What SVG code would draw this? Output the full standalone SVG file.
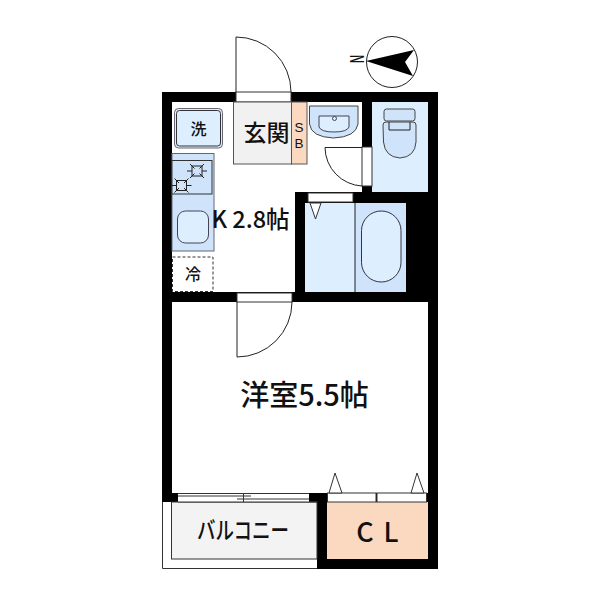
<svg xmlns="http://www.w3.org/2000/svg" width="600" height="600" viewBox="0 0 600 600">
<style>
text{font-family:"Noto Sans CJK JP","Noto Sans",sans-serif;fill:#111;text-anchor:middle;font-weight:500}
.w{fill:#000}
.l{fill:none;stroke:#222;stroke-width:1}
.o{fill:#fff;stroke:#333;stroke-width:1}
.b{fill:#ddeeff}
.m{fill:#cfe3fa;stroke:#444;stroke-width:1}
</style>
<defs>
<g id="burner" fill="none" stroke="#222" stroke-width="1">
<path d="M-10 0H-5M5 0H10M-7 -7L-2.500 -2.500M7 -7L2.500 -2.500M-7 7L-2.500 2.500M7 7L2.500 2.500"/>
<rect x="-5" y="-5" width="10" height="10"/>
</g>
</defs>
<rect width="600" height="600" fill="#fff"/>
<g id="fills">
<rect x="372" y="102" width="56" height="90" class="b"/>
<rect x="305" y="203" width="50" height="89" class="b"/>
<rect x="355" y="203" width="51" height="89" fill="#cfe3fa"/>
<line x1="355" y1="203" x2="355" y2="292" stroke="#222"/>
</g>
<g id="walls">
<rect class="w" x="162" y="92" width="10" height="410"/>
<rect class="w" x="162" y="92" width="276" height="10"/>
<rect class="w" x="428" y="92" width="10" height="477"/>
<rect class="w" x="362" y="102" width="10" height="90"/>
<rect class="w" x="295" y="192" width="143" height="11"/>
<rect class="w" x="295" y="192" width="10" height="110"/>
<rect class="w" x="406" y="202" width="32" height="100"/>
<rect class="w" x="162" y="292" width="276" height="10"/>
<rect class="w" x="162" y="493" width="16" height="9"/>
<rect class="w" x="309" y="493" width="129" height="9"/>
<rect class="w" x="317" y="493" width="10" height="76"/>
<rect class="w" x="317" y="559" width="121" height="10"/>
</g>
<g id="entrance-door">
<rect class="o" x="236" y="92" width="55" height="10"/>
<path class="l" d="M236 92V37A55 55 0 0 1 291 92"/>
</g>
<g id="genkan">
<rect x="233.500" y="102" width="58" height="62" fill="#f1f1f1" stroke="#555"/>
<text x="266.500" y="141" font-size="23">玄関</text>
</g>
<g id="sb">
<rect x="291.500" y="102" width="15.500" height="62" fill="#fbd9c0" stroke="#555"/>
<text x="299" y="132" font-size="13.500" style="font-family:'Liberation Sans',sans-serif;font-weight:400">S</text>
<text x="299" y="148" font-size="13.500" style="font-family:'Liberation Sans',sans-serif;font-weight:400">B</text>
</g>
<g id="washer">
<rect x="174.500" y="108.500" width="48" height="39.500" rx="4" fill="#ddeeff" stroke="#667"/>
<rect x="176.500" y="110.500" width="44" height="35.500" rx="3" fill="#ddeeff" stroke="#333"/>
<text x="198.500" y="134.500" font-size="16">洗</text>
</g>
<g id="kitchen">
<rect x="172" y="153.500" width="42" height="97.500" fill="#cfe3fa" stroke="#667"/>
<rect x="172" y="160.500" width="40" height="33.500" fill="#cfe3fa" stroke="#333"/>
<use href="#burner" x="197" y="171"/>
<use href="#burner" x="181.500" y="185.500"/>
<rect x="177.500" y="211" width="31" height="32" rx="8" fill="#ddeeff" stroke="#445"/>
</g>
<g id="fridge">
<rect x="172.500" y="257" width="40.500" height="34.500" fill="#fff" stroke="#333" stroke-dasharray="3 2"/>
<text x="193" y="280" font-size="16">冷</text>
</g>
<g id="washbasin">
<path d="M309.500 106H358V124Q356 137 333.500 138Q311 137 309.500 124Z" class="m"/>
<path d="M319 116H349V127Q347 132 334 132Q321 132 319 127Z" fill="#ddeeff" stroke="#445"/>
<circle cx="334.500" cy="118.500" r="2" fill="#ddeeff" stroke="#445"/>
</g>
<g id="toilet">
<rect x="384" y="109" width="31" height="12" rx="2.500" class="m"/>
<path d="M383 125Q383 122 386 122H413Q416 122 416 125V142Q415 157 400 158Q385 157 383.500 142Z" class="m"/>
<path d="M389 122V130H410V122" class="l"/>
</g>
<g id="toilet-door">
<rect class="o" x="362" y="147" width="10" height="39"/>
<path class="l" d="M362 147.500H325A39 39 0 0 0 362 186"/>
</g>
<g id="bath">
<rect class="o" x="308" y="193" width="45" height="9"/>
<path class="o" d="M310 203H321L315.500 219Z"/>
<rect x="361.500" y="211" width="39.500" height="71" rx="19.700" fill="#ddeeff" stroke="#334"/>
</g>
<g id="room-door">
<rect class="o" x="237" y="293" width="55" height="9"/>
<path class="l" d="M237 302V357A55 55 0 0 0 292 302"/>
</g>
<g id="balcony">
<path d="M162.500 502V568.500H317" fill="none" stroke="#333"/>
<rect x="171.500" y="502" width="145.500" height="57" fill="#f3f3f3" stroke="#333"/>
<rect x="178" y="493" width="131" height="9" fill="#fff"/>
<path d="M178 493.500H309M178 496H251M237 499H309M178 502H317M243.500 493V502" fill="none" stroke="#333"/>
<text x="243" y="539" font-size="24" textLength="92" lengthAdjust="spacingAndGlyphs">バルコニー</text>
</g>
<g id="closet">
<rect x="327" y="502" width="101" height="57" fill="#fbd9c0"/>
<rect class="o" x="327.500" y="493" width="48.500" height="9"/>
<rect class="o" x="377" y="493" width="49.500" height="9"/>
<path class="o" d="M329 493L335 473L342 493Z"/>
<path class="o" d="M411 493L417 473L424 493Z"/>
<text font-size="27"><tspan x="365" y="542">C</tspan><tspan x="391" y="542">L</tspan></text>
</g>
<g id="labels">
<text x="250.500" y="228" font-size="23.500">K 2.8帖</text>
<text x="304.500" y="406" font-size="29">洋室5.5帖</text>
</g>
<g id="compass">
<circle cx="392" cy="62" r="25.500" fill="#fff" stroke="#222"/>
<path d="M366 61L414 50L405 62L413 76Z" fill="#000"/>
<text x="0" y="0" font-size="18" textLength="9" lengthAdjust="spacingAndGlyphs" transform="translate(363.500 59) rotate(-90)">N</text>
</g>
</svg>
